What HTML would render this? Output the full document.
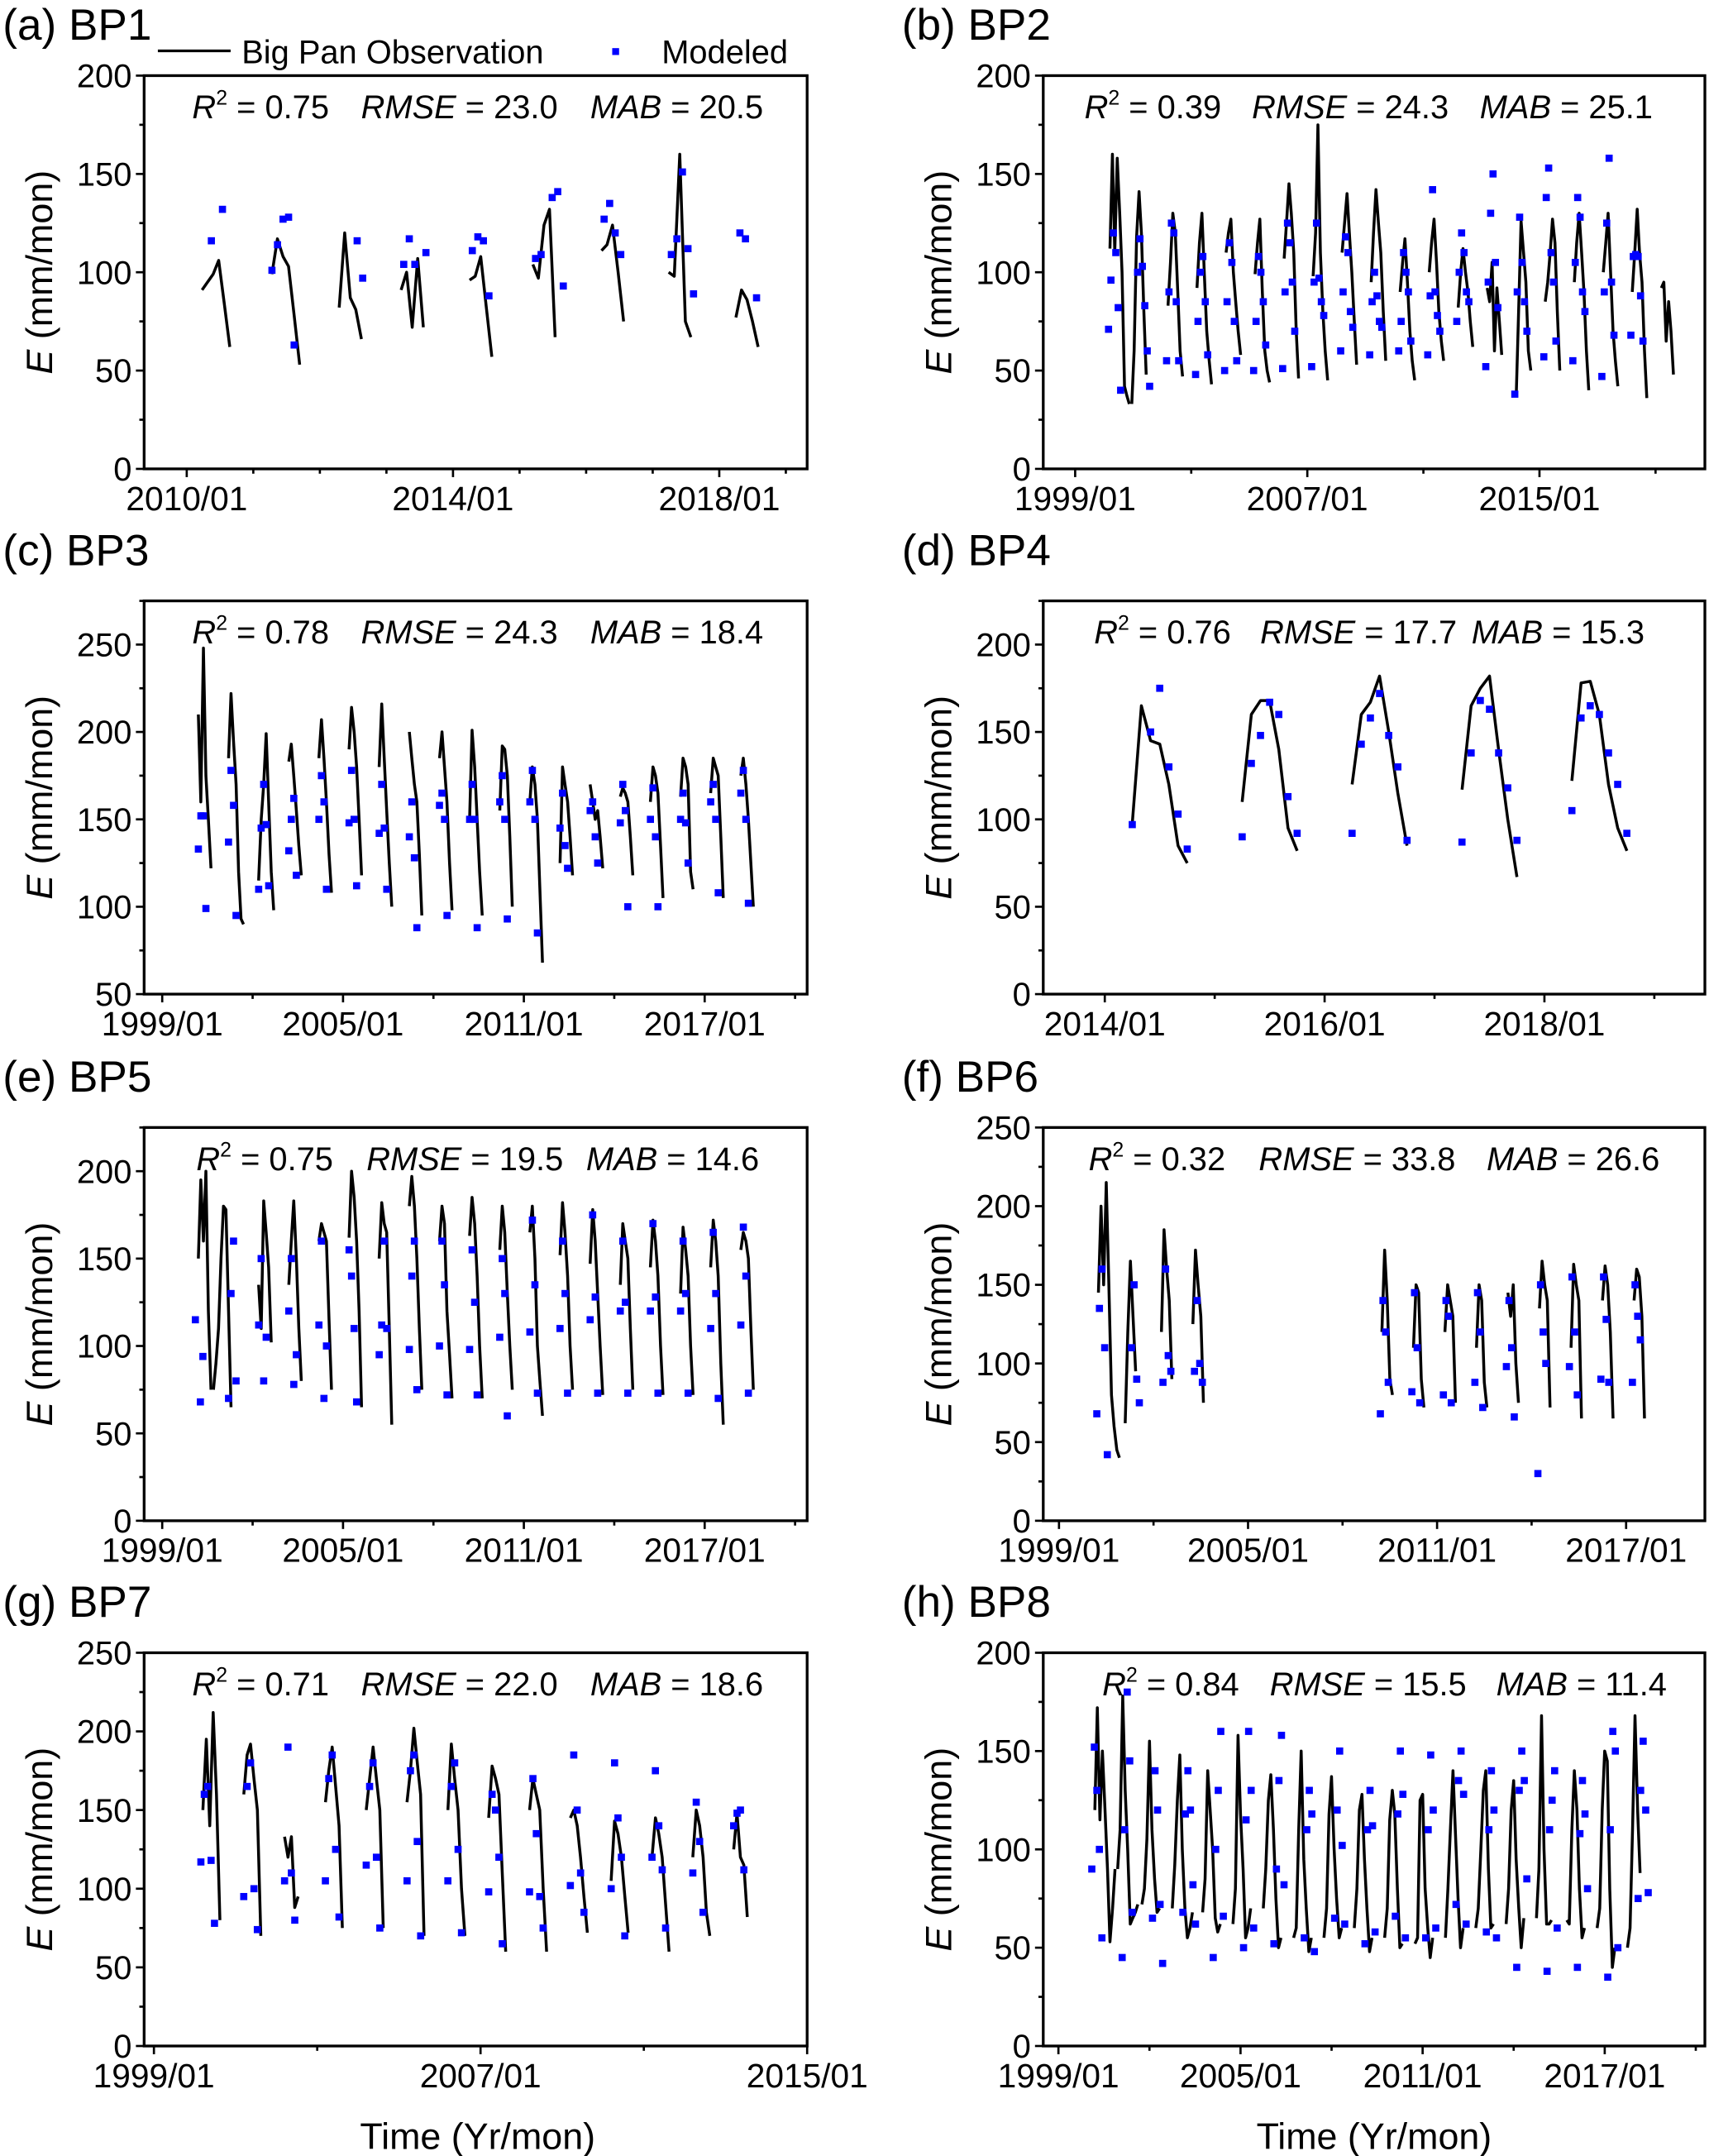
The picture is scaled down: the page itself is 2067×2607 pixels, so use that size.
<!DOCTYPE html>
<html><head><meta charset="utf-8"><title>Big Pan evaporation vs modeled</title>
<style>
html,body{margin:0;padding:0;background:#fff;}
svg{display:block;font-family:"Liberation Sans",Arial,sans-serif;}
</style></head>
<body>
<svg id="chart" xmlns="http://www.w3.org/2000/svg" width="2067" height="2607" viewBox="0 0 1245 1568" preserveAspectRatio="none"></svg>
<script>
// ---------- data (values in mm/mon, times in decimal years, monthly steps) ----------
const obsA = [[2010.23,[91,95,99,106,84,62]],[2011.28,[99,117,108,103,78,53]],[2012.29,[82,120,87,81,66]],[2013.22,[91,100,72,107,72]],[2014.25,[96,98,108,82,57]],[2015.2,[104,97,124,132,67]],[2016.23,[111,114,124,100,75]],[2017.24,[100,98,160,75,67]],[2018.25,[77,91,86,75,62]]];
const modA = [[2010.37,[116,null,132]],[2011.28,[101,114,127,128,63]],[2012.56,[116,97]],[2013.26,[104,117,104,null,110]],[2014.29,[111,118,116,88]],[2015.24,[107,109,null,138,141,93]],[2016.27,[127,135,120,109]],[2017.28,[109,117,151,112,89]],[2018.31,[120,117,null,87]]];

const obsB = [[2000.2,[112,160,110,158,130,100,42,37,33]],[2000.95,[33,60,118,141,120,80,48]],[2002.2,[83,105,130,120,90,60,47]],[2003.2,[92,115,130,100,70,55,43]],[2004.2,[110,120,127,100,85,70,58]],[2005.2,[99,115,127,90,60,50,44]],[2006.2,[107,125,145,130,110,70,46]],[2007.2,[98,120,175,110,80,60,45]],[2008.2,[110,125,140,120,100,75,53]],[2009.2,[95,120,142,125,110,80,55]],[2010.2,[90,105,117,95,70,55,45]],[2011.2,[100,115,127,105,80,65,55]],[2012.2,[82,100,112,100,90,75,62]],[2013.2,[92,85,105,60,92,75,58]],[2014.2,[38,80,126,110,95,60,50]],[2015.2,[85,95,110,127,115,80,50]],[2016.2,[95,115,130,110,90,60,40]],[2017.2,[100,115,130,100,70,55,42]],[2018.2,[90,110,132,110,95,60,36]],[2019.2,[92,95,65,85,70,48]]];
const modB = [[2000.15,[71,96,120,110,82,40]],[2001.15,[100,117,103,83,60,42]],[2002.15,[55,90,125,120,85,55]],[2003.15,[48,75,100,108,85,58]],[2004.15,[50,85,115,105,75,55]],[2005.15,[50,75,108,100,85,63]],[2006.15,[51,90,125,115,95,70]],[2007.15,[52,95,125,97,85,78]],[2008.15,[60,90,118,110,80,72]],[2009.15,[58,85,100,88,75,72]],[2010.15,[60,75,110,100,90,65]],[2011.15,[58,88,142,90,78,70]],[2012.15,[75,100,120,110,90,85]],[2013.15,[52,95,130,150,105,82]],[2014.15,[38,90,128,105,85,70]],[2015.15,[57,138,153,110,95,65]],[2016.15,[55,105,138,128,90,80]],[2017.15,[47,90,125,158,95,68]],[2018.15,[68,108,109,108,88,65]]];

const obsC = [[2000.2,[210,160,248,175,150,122]],[2001.2,[185,222,195,170,120,93,90]],[2002.2,[115,150,170,199,160,120,98]],[2003.2,[183,193,175,155,135,118]],[2004.2,[185,207,185,160,130,108]],[2005.2,[190,214,200,180,150,118]],[2006.2,[180,216,185,155,125,100]],[2007.2,[200,185,170,160,130,95]],[2008.2,[185,200,180,160,125,98]],[2009.2,[150,201,180,150,120,95]],[2010.2,[155,192,190,175,140,100]],[2011.2,[160,180,170,150,110,68]],[2012.2,[125,180,170,160,140,118]],[2013.2,[170,160,150,155,140,122]],[2014.2,[163,168,165,160,140,118]],[2015.2,[160,180,175,165,135,105]],[2016.2,[163,185,180,170,120,110]],[2017.2,[165,185,180,175,140,105]],[2018.2,[175,185,170,150,125,100]]];
const modC = [[2000.2,[133,152,152,99]],[2001.2,[137,178,158,95]],[2002.2,[110,145,170,147,112]],[2003.2,[132,150,162,118]],[2004.2,[150,175,160,110]],[2005.2,[148,178,150,112]],[2006.2,[142,170,145,110]],[2007.2,[140,160,128,88]],[2008.2,[158,165,150,95]],[2009.2,[150,170,150,88]],[2010.2,[160,175,150,93]],[2011.2,[160,178,150,85]],[2012.2,[145,165,135,122]],[2013.2,[155,160,140,125]],[2014.2,[148,170,155,100]],[2015.2,[150,168,140,100]],[2016.2,[150,165,148,125]],[2017.2,[160,170,150,108]],[2018.2,[165,178,150,102]]];

const obsD = [[2014.25,[98,165,145,143,120,85,75]],[2015.25,[110,160,168,168,140,95,82]],[2016.25,[120,160,167,182,150,115,85]],[2017.25,[117,165,175,182,140,100,67]],[2018.25,[122,178,179,160,120,95,82]]];
const modD = [[2014.25,[97,null,150,175,130,103,83]],[2015.25,[90,132,148,167,160,113,92]],[2016.25,[92,143,158,172,148,130,88]],[2017.25,[87,138,168,163,138,118,88]],[2018.25,[105,158,165,160,138,120,92]]];

const obsE = [[2000.2,[150,195,160,200,120,75]],[2000.7,[75,90,110,150,180,178,120,65]],[2002.2,[135,110,183,165,145,102]],[2003.2,[135,160,183,150,110,80]],[2004.2,[160,170,165,160,115,75]],[2005.2,[162,200,185,160,120,65]],[2006.2,[150,182,170,165,110,55]],[2007.2,[180,197,180,150,110,75]],[2008.2,[160,180,170,120,95,70]],[2009.2,[163,185,170,140,100,70]],[2010.2,[155,180,165,130,100,75]],[2011.2,[165,180,150,100,80,60]],[2012.2,[152,182,165,140,100,75]],[2013.2,[147,178,160,130,100,72]],[2014.2,[135,170,160,150,110,75]],[2015.2,[145,172,160,140,100,72]],[2016.2,[130,168,155,140,100,72]],[2017.2,[145,172,160,140,90,55]],[2018.2,[155,165,160,150,110,75]]];
const modE = [[2000.1,[115,null,68,94]],[2001.2,[70,130,160,80]],[2002.2,[112,150,80,105]],[2003.2,[120,150,78,95]],[2004.2,[112,160,70,100]],[2005.2,[155,140,110,68]],[2006.2,[95,112,160,110]],[2007.2,[98,140,160,75]],[2008.2,[100,160,135,72]],[2009.2,[98,155,125,72]],[2010.2,[105,150,130,60]],[2011.2,[108,172,135,73]],[2012.2,[110,160,130,73]],[2013.2,[115,175,128,73]],[2014.2,[120,160,125,73]],[2015.2,[120,170,128,73]],[2016.2,[120,160,130,73]],[2017.2,[110,165,130,70]],[2018.2,[112,168,140,73]]];

const obsF = [[2000.25,[145,200,150,215,150,80,60,45,40]],[2001.1,[62,120,165,130,95]],[2002.25,[120,185,160,140,90]],[2003.25,[125,172,150,130,75]],[2009.25,[120,172,140,90,80]],[2010.25,[110,150,145,90,72]],[2011.25,[120,150,140,130,75]],[2012.25,[110,150,140,88,72]],[2013.25,[145,130,150,100,75]],[2014.25,[135,165,150,140,72]],[2015.25,[110,163,150,140,65]],[2016.25,[140,162,150,120,65]],[2017.25,[140,160,155,130,65]]];
const modF = [[2000.2,[68,135,160,110,42]],[2001.3,[110,150,90,75]],[2002.3,[88,160,105,95]],[2003.3,[95,140,100,88]],[2009.2,[68,140,120,88]],[2010.2,[82,145,110,75]],[2011.2,[80,140,130,75]],[2012.2,[88,145,120,72]],[2013.2,[98,140,110,66]],[2014.2,[30,150,120,100]],[2015.2,[98,155,120,80]],[2016.2,[90,155,128,88]],[2017.2,[88,150,130,115]]];

const obsG = [[2000.2,[150,195,140,212,160,80]],[2001.2,[160,185,192,170,150,70]],[2002.2,[133,120,133,88,95]],[2003.2,[155,175,190,165,140,75]],[2004.2,[150,170,190,170,150,75]],[2005.2,[155,175,202,180,160,70]],[2006.2,[150,192,170,150,100,70]],[2007.2,[145,178,170,160,110,60]],[2008.2,[150,170,160,150,100,60]],[2009.2,[145,150,140,120,95,72]],[2010.2,[105,143,135,120,95,72]],[2011.2,[120,145,135,120,90,60]],[2012.2,[120,150,140,120,85,70]],[2013.2,[125,148,120,115,82]]];
const modG = [[2000.15,[117,160,165,118,78]],[2001.2,[95,165,180,100,74]],[2002.2,[105,190,110,80]],[2003.2,[105,170,185,125,82]],[2004.2,[115,165,180,120,75]],[2005.2,[105,175,185,130,70]],[2006.2,[105,165,180,125,72]],[2007.2,[98,160,150,120,65]],[2008.2,[98,170,135,95,75]],[2009.2,[102,185,150,110,85]],[2010.2,[100,180,145,120,70]],[2011.2,[120,175,140,112,75]],[2012.2,[110,155,130,85]],[2013.2,[140,148,150,112]]];

const obsH = [[2000.2,[120,172,115,150,120,90,53,70,90]],[2000.95,[90,110,178,130,100,62,65,68,72]],[2001.75,[72,80,105,155,110,85,68,70]],[2002.75,[70,92,125,148,100,70,55,60,68]],[2003.75,[68,85,140,120,100,65,58,62]],[2004.75,[62,80,158,118,90,55,60,70]],[2005.75,[70,90,125,138,110,75,50,55]],[2006.75,[55,60,110,150,95,70,48,55]],[2007.75,[55,70,118,137,100,75,55,60]],[2008.75,[60,80,120,128,95,70,48,55]],[2009.75,[55,70,115,130,118,80,50,52]],[2010.75,[52,55,125,128,80,60,45,55]],[2011.75,[55,80,110,140,108,75,50,60]],[2012.75,[60,70,100,130,140,90,60,62]],[2013.75,[62,80,120,135,95,70,50,65]],[2014.75,[65,90,168,100,62,62,64]],[2015.75,[64,62,110,140,120,80,55,60]],[2016.75,[60,70,120,150,145,80,40,50]],[2017.75,[50,60,110,168,120,88]]];
const modH = [[2000.1,[90,152,130,100,55]],[2001.1,[45,110,180,145,68]],[2002.1,[65,140,120,72,42]],[2003.1,[68,118,140,120,82,62]],[2004.1,[45,100,130,160,66]],[2005.1,[50,115,160,130,60]],[2006.1,[52,90,135,158,82]],[2007.1,[55,110,130,118,48]],[2008.1,[65,120,150,102,62]],[2009.1,[52,110,130,112,58]],[2010.1,[66,118,150,128,55]],[2011.1,[55,110,148,120,60]],[2012.1,[72,135,150,128,62]],[2013.1,[58,110,140,120,55]],[2014.1,[40,130,150,135,85]],[2015.1,[38,110,125,140,60]],[2016.1,[40,108,135,118,80]],[2017.1,[35,110,160,150,50]],[2018.1,[75,130,155,120,78]]];

// tick values
const yTicks200 = [0,50,100,150,200];
const yTicks250 = [0,50,100,150,200,250];
const yTicksC = [50,100,150,200,250];
const xTicksA = [2010,2014,2018];
const xTicksB = [1999,2007,2015];
const xTicksC = [1999,2005,2011,2017];
const xTicksD = [2014,2016,2018];
const xTicksG = [1999,2007,2015];

// stats text
const statsA = ['0.75','23.0','20.5'], statsB = ['0.39','24.3','25.1'], statsC = ['0.78','24.3','18.4'], statsD = ['0.76','17.7','15.3'];
const statsE = ['0.75','19.5','14.6'], statsF = ['0.32','33.8','26.6'], statsG = ['0.71','22.0','18.6'], statsH = ['0.84','15.5','11.4'];

// ---------- layout ----------
const panels = [
 {id:'a',title:'(a) BP1',col:0,row:0,x:[2009.36,2019.32],y:[0,200],yt:yTicks200,ym:25,xt:xTicksA,xm:1,obs:obsA,mod:modA,st:statsA,sx:[140,263,430]},
 {id:'b',title:'(b) BP2',col:1,row:0,x:[1997.9,2020.7],y:[0,200],yt:yTicks200,ym:25,xt:xTicksB,xm:4,obs:obsB,mod:modB,st:statsB,sx:[790,912,1078]},
 {id:'c',title:'(c) BP3',col:0,row:1,x:[1998.4,2020.4],y:[50,275],yt:yTicksC,ym:25,xt:xTicksC,xm:3,obs:obsC,mod:modC,st:statsC,sx:[140,263,430]},
 {id:'d',title:'(d) BP4',col:1,row:1,x:[2013.44,2019.46],y:[0,225],yt:yTicks200,ym:25,xt:xTicksD,xm:1,obs:obsD,mod:modD,st:statsD,sx:[797,918,1072]},
 {id:'e',title:'(e) BP5',col:0,row:2,x:[1998.4,2020.4],y:[0,225],yt:yTicks200,ym:25,xt:xTicksC,xm:3,obs:obsE,mod:modE,st:statsE,sx:[143,267,427]},
 {id:'f',title:'(f) BP6',col:1,row:2,x:[1998.5,2019.5],y:[0,250],yt:yTicks250,ym:25,xt:xTicksC,xm:3,obs:obsF,mod:modF,st:statsF,sx:[793,917,1083]},
 {id:'g',title:'(g) BP7',col:0,row:3,x:[1998.76,2015.0],y:[0,250],yt:yTicks250,ym:25,xt:xTicksG,xm:4,obs:obsG,mod:modG,st:statsG,sx:[140,263,430]},
 {id:'h',title:'(h) BP8',col:1,row:3,x:[1998.5,2020.3],y:[0,200],yt:yTicks200,ym:25,xt:xTicksC,xm:3,obs:obsH,mod:modH,st:statsH,sx:[803,925,1090]}
];
const colX = [[105,588],[760,1242]];
const rowY = [[55,341],[437,723],[820,1106],[1202,1488]];
const NS = 'http://www.w3.org/2000/svg';
const svg = document.getElementById('chart');
function mk(tag, attrs, parent, text){
  const e = document.createElementNS(NS, tag);
  for (const k in attrs) e.setAttribute(k, attrs[k]);
  if (text !== undefined) e.textContent = text;
  (parent||svg).appendChild(e);
  return e;
}

panels.forEach(p => {
  const [L,R] = colX[p.col], [T,B] = rowY[p.row];
  const g = mk('g', {});
  
  
  const xs = v => L + (v - p.x[0]) / (p.x[1] - p.x[0]) * (R - L);
  const ys = v => B - (v - p.y[0]) / (p.y[1] - p.y[0]) * (B - T);

  const title = mk('text', {x: L - 103, y: T - 26, 'font-size': 32}, g, p.title);
  
  

  const yAx = mk('g', {}, g);
  
  
  for (let v = p.y[0]; v <= p.y[1] + 1e-6; v += p.ym) {
    const major = p.yt.includes(v);
    mk('line', {x1: L, x2: L - (major ? 6 : 3.5), y1: ys(v), y2: ys(v), stroke: '#000', 'stroke-width': 1.6}, yAx);
  }
  p.yt.forEach(v => {
    const t = mk('text', {x: L - 9, y: ys(v) + 8.5, 'font-size': 24, 'text-anchor': 'end'}, yAx, String(v));
    
    
  });
  const xAx = mk('g', {}, g);
  
  
  const step = (p.xt[1] - p.xt[0]);
  for (let v = p.xt[0] - 20 * p.xm; v <= p.x[1]; v += p.xm) {
    if (v < p.x[0]) continue;
    const major = ((v - p.xt[0]) % step === 0);
    mk('line', {x1: xs(v), x2: xs(v), y1: B, y2: B + (major ? 6 : 3.5), stroke: '#000', 'stroke-width': 1.6}, xAx);
  }
  p.xt.forEach(v => {
    const t = mk('text', {x: xs(v), y: B + 30, 'font-size': 24.5, 'text-anchor': 'middle'}, xAx, v + '/01');
    
    
  });
  const cy = (T + B) / 2, cx = L - 67;
  const yt = mk('text', {x: cx, y: cy, 'font-size': 27, 'text-anchor': 'middle', transform: `rotate(-90 ${cx} ${cy})`}, g);
  
  
  mk('tspan', {'font-style': 'italic'}, yt, 'E');
  mk('tspan', {}, yt, ' (mm/mon)');

  const lines = mk('g', {}, g);
  
  
  p.obs.forEach(([t0, vals]) => {
    const pts = vals.map((v, i) => xs(t0 + i / 12).toFixed(1) + ',' + ys(v).toFixed(1)).join(' ');
    const pl = mk('polyline', {points: pts, fill: 'none', stroke: '#000', 'stroke-width': 2.1, 'stroke-linejoin': 'round'}, lines);
    
    
  });
  const pts = mk('g', {}, g);
  
  
  p.mod.forEach(([t0, vals]) => {
    vals.forEach((v, i) => {
      if (v === null) return;
      const r = mk('rect', {x: xs(t0 + i / 12) - 2.6, y: ys(v) - 2.6, width: 5.2, height: 5.2, fill: '#0000ff'}, pts);
      
      
    });
  });

  const fr = mk('rect', {x: L, y: T, width: R - L, height: B - T, fill: 'none', stroke: '#000', 'stroke-width': 2}, g);
  
  

  const sy = T + 31;
  const s = mk('g', {'font-size': 24}, g);
  
  
  const t1 = mk('text', {x: p.sx[0], y: sy}, s);
  mk('tspan', {'font-style': 'italic'}, t1, 'R');
  mk('tspan', {'font-size': 15, dy: -10}, t1, '2');
  mk('tspan', {dy: 10}, t1, ' = ' + p.st[0]);
  const t2 = mk('text', {x: p.sx[1], y: sy}, s);
  mk('tspan', {'font-style': 'italic'}, t2, 'RMSE');
  mk('tspan', {}, t2, ' = ' + p.st[1]);
  const t3 = mk('text', {x: p.sx[2], y: sy}, s);
  mk('tspan', {'font-style': 'italic'}, t3, 'MAB');
  mk('tspan', {}, t3, ' = ' + p.st[2]);
});

const lg = mk('g', {});


mk('line', {x1: 115, x2: 168, y1: 37, y2: 37, stroke: '#000', 'stroke-width': 2}, lg);
const l1 = mk('text', {x: 176, y: 46, 'font-size': 24}, lg, 'Big Pan Observation');


mk('rect', {x: 446, y: 35, width: 5, height: 5, fill: '#0000ff'}, lg);
const l2 = mk('text', {x: 482, y: 46, 'font-size': 24}, lg, 'Modeled');



[348, 1001].forEach(x => {
  const t = mk('text', {x: x, y: 1563, 'font-size': 27, 'text-anchor': 'middle'}, svg, 'Time (Yr/mon)');
  
  
});
</script>
</body></html>
